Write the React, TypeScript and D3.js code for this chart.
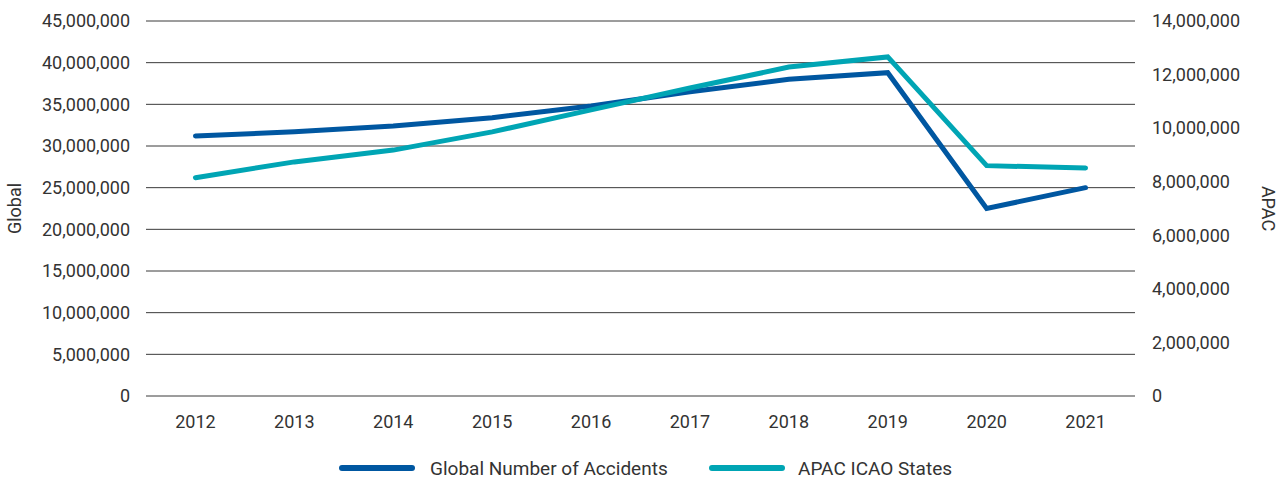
import React from "react";
import * as d3 from "d3";

const years = ["2012","2013","2014","2015","2016","2017","2018","2019","2020","2021"];
const globalValues = [31200000,31700000,32400000,33400000,34800000,36500000,38000000,38800000,22500000,25000000];
const apacValues = [8150000,8740000,9180000,9860000,10680000,11500000,12280000,12660000,8600000,8510000];
const leftTicks = [0,5000000,10000000,15000000,20000000,25000000,30000000,35000000,40000000,45000000];
const rightTicks = [0,2000000,4000000,6000000,8000000,10000000,12000000,14000000];
const seriesNames = ["Global Number of Accidents","APAC ICAO States"];
const colors = ["#0057a1","#00a5b4"];

const W = 1288, H = 482;
const left = 146, right = 1135, top = 21, bottom = 396;
const font = "Roboto, sans-serif";
const textColor = "#333";
const fs = 18;

export default function App() {
  const x = d3.scaleBand().domain(years).range([left, right]);
  const yL = d3.scaleLinear().domain([0, 45000000]).range([bottom, top]);
  const yR = d3.scaleLinear().domain([0, 14000000]).range([bottom, top]);
  const fmt = d3.format(",");
  const cx = (d: string) => (x(d) as number) + x.bandwidth() / 2;
  const lineG = d3.line<number>().x((_, i) => cx(years[i])).y(v => yL(v));
  const lineA = d3.line<number>().x((_, i) => cx(years[i])).y(v => yR(v));

  return (
    <svg width={W} height={H} style={{ position: "absolute", left: 0, top: 0 }} fontFamily={font}>
      {leftTicks.map(t => (
        <line key={"g" + t} x1={left} x2={right} y1={yL(t)} y2={yL(t)} stroke="#3a3a3a" strokeWidth={1} />
      ))}
      {leftTicks.map(t => (
        <text key={"l" + t} x={130} y={yL(t)} dy="0.35em" textAnchor="end" fontSize={fs} fill={textColor}>{fmt(t)}</text>
      ))}
      {rightTicks.map(t => (
        <text key={"r" + t} x={1152} y={yR(t)} dy="0.35em" textAnchor="start" fontSize={fs} fill={textColor}>{fmt(t)}</text>
      ))}
      {years.map(y => (
        <text key={"x" + y} x={cx(y)} y={422} dy="0.35em" textAnchor="middle" fontSize={fs} fill={textColor}>{y}</text>
      ))}
      <text transform={`translate(15,${(top + bottom) / 2}) rotate(-90)`} textAnchor="middle" dy="0.35em" fontSize={fs} fill={textColor}>Global</text>
      <text transform={`translate(1268,${(top + bottom) / 2}) rotate(90)`} textAnchor="middle" dy="0.35em" fontSize={fs} fill={textColor}>APAC</text>
      <path d={lineG(globalValues) || ""} fill="none" stroke={colors[0]} strokeWidth={5} strokeLinecap="round" strokeLinejoin="miter" />
      <path d={lineA(apacValues) || ""} fill="none" stroke={colors[1]} strokeWidth={5} strokeLinecap="round" strokeLinejoin="miter" />
      <g>
        <line x1={342} x2={412} y1={468} y2={468} stroke={colors[0]} strokeWidth={6} strokeLinecap="round" />
        <text x={430} y={468} dy="0.35em" fontSize={19} fill={textColor}>{seriesNames[0]}</text>
        <line x1={712} x2={782} y1={468} y2={468} stroke={colors[1]} strokeWidth={6} strokeLinecap="round" />
        <text x={798} y={468} dy="0.35em" fontSize={19} fill={textColor}>{seriesNames[1]}</text>
      </g>
    </svg>
  );
}
